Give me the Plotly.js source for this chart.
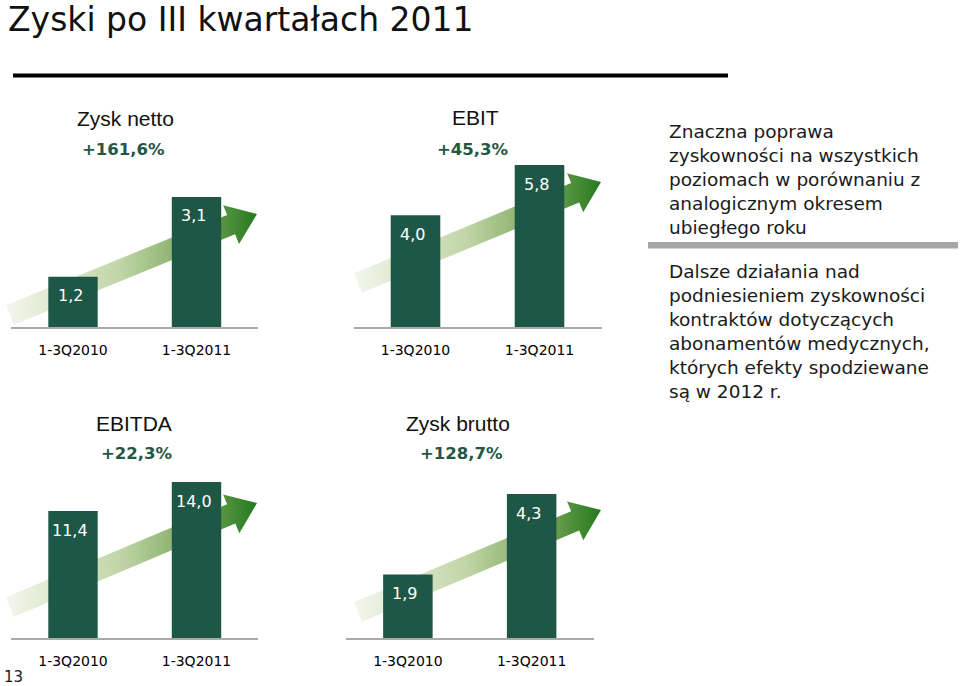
<!DOCTYPE html>
<html>
<head>
<meta charset="utf-8">
<script src="https://cdn.plot.ly/plotly-3.0.1.min.js"></script>
<style>html,body{margin:0;padding:0;background:#fff;}#chart{width:960px;height:686px;}</style>
</head>
<body>
<div id="chart"></div>
<script>
// ---- data ----
const categories = ['1-3Q2010', '1-3Q2011'];
const panelTitles = ['Zysk netto', 'EBIT', 'EBITDA', 'Zysk brutto'];
const panelChanges = ['+161,6%', '+45,3%', '+22,3%', '+128,7%'];
const zyskNetto = [1.2, 3.1];
const ebit = [4.0, 5.8];
const ebitda = [11.4, 14.0];
const zyskBrutto = [1.9, 4.3];
const mainTitle = 'Zyski po III kwartałach 2011';
const noteTop = ['Znaczna poprawa', 'zyskowności na wszystkich', 'poziomach w porównaniu z', 'analogicznym okresem', 'ubiegłego roku'];
const noteBottom = ['Dalsze działania nad', 'podniesieniem zyskowności', 'kontraktów dotyczących', 'abonamentów medycznych,', 'których efekty spodziewane', 'są w 2012 r.'];
const pageNumber = '13';

// ---- layout / style ----
const W = 960, H = 686;
const barColor = '#1f5747';
const changeColor = '#245644';
const panels = [
  {values: zyskNetto, left: 11.25, width: 247, base: 327, height: 170, ymax: 4.05, title: [125, 118], change: [123, 149], tail: [10, 315], tip: [257, 214]},
  {values: ebit, left: 353.5, width: 248, base: 327, height: 170, ymax: 6.09, title: [475, 117], change: [473, 149], tail: [358, 283], tip: [601, 182]},
  {values: ebitda, left: 11.25, width: 247, base: 638, height: 170, ymax: 15.26, title: [134, 423], change: [137, 453], tail: [10, 607], tip: [257, 503]},
  {values: zyskBrutto, left: 346, width: 247.5, base: 638, height: 170, ymax: 5.08, title: [458, 423], change: [461, 453], tail: [358, 612], tip: [601, 510]}
];

function fmt(v) { return v.toFixed(1).replace('.', ','); }

function arrowPath(tail, tip) {
  const dx = tip[0] - tail[0], dy = tip[1] - tail[1];
  const len = Math.hypot(dx, dy);
  const ux = dx / len, uy = dy / len;
  const nx = -uy, ny = ux;
  const s = 10.5, h = 21, L = 28;
  const bx = tip[0] - ux * L, by = tip[1] - uy * L;
  const pts = [
    [tail[0] + nx * s, tail[1] + ny * s],
    [bx + nx * s, by + ny * s],
    [bx + nx * h, by + ny * h],
    [tip[0], tip[1]],
    [bx - nx * h, by - ny * h],
    [bx - nx * s, by - ny * s],
    [tail[0] - nx * s, tail[1] - ny * s],
    [tail[0] + nx * s, tail[1] + ny * s]
  ];
  return {x: pts.map(p => p[0]), y: pts.map(p => p[1])};
}

const traces = [];
const layout = {
  width: W, height: H,
  margin: {l: 0, r: 0, t: 0, b: 0, pad: 0},
  paper_bgcolor: '#ffffff',
  plot_bgcolor: 'rgba(0,0,0,0)',
  showlegend: false,
  title: {
    text: mainTitle,
    x: 8 / W, xanchor: 'left', xref: 'paper',
    y: 1 - 19 / H, yanchor: 'middle', yref: 'paper',
    font: {family: 'DejaVu Sans', size: 33, color: '#111111'}
  },
  xaxis: {domain: [0, 1], range: [0, W], visible: false, fixedrange: true},
  yaxis: {domain: [0, 1], range: [H, 0], visible: false, fixedrange: true},
  annotations: [],
  shapes: [
    {type: 'line', xref: 'x', yref: 'y', x0: 13, x1: 728, y0: 75.5, y1: 75.5, line: {color: '#000000', width: 4}},
    {type: 'rect', xref: 'x', yref: 'y', x0: 648, x1: 958, y0: 242, y1: 248.5, fillcolor: '#a6a6a6', line: {width: 0}}
  ]
};

// arrows (base subplot, drawn beneath the bars)
panels.forEach(p => {
  const a = arrowPath(p.tail, p.tip);
  traces.push({
    type: 'scatter', mode: 'lines', x: a.x, y: a.y, xaxis: 'x', yaxis: 'y',
    fill: 'toself', line: {width: 0, color: 'rgba(0,0,0,0)'},
    fillcolor: '#8fb46e',
    fillgradient: {type: 'horizontal', colorscale: [[0, '#f3f6ec'], [0.45, '#c2d6a8'], [0.8, '#6f9f50'], [1, '#237a1e']]},
    hoverinfo: 'skip'
  });
});

// bar panels
panels.forEach((p, i) => {
  const n = i + 2;
  const xa = 'xaxis' + n, ya = 'yaxis' + n;
  layout[xa] = {
    domain: [p.left / W, (p.left + p.width) / W], anchor: 'y' + n,
    type: 'category', range: [-0.5, 1.5],
    showline: true, linecolor: '#a9a9a9', linewidth: 2,
    showgrid: false, zeroline: false, ticks: '',
    tickfont: {family: 'DejaVu Sans', size: 14, color: '#000000'},
    ticklabelstandoff: 9, fixedrange: true
  };
  layout[ya] = {
    domain: [1 - p.base / H, 1 - (p.base - p.height) / H], anchor: 'x' + n,
    range: [0, p.ymax], visible: false, fixedrange: true
  };
  traces.push({
    type: 'bar', x: categories, y: p.values, xaxis: 'x' + n, yaxis: 'y' + n,
    width: 0.4, marker: {color: barColor, line: {width: 0}}, hoverinfo: 'skip'
  });
  p.values.forEach((v, j) => {
    layout.annotations.push({
      xref: 'x' + n, yref: 'y' + n, x: categories[j], y: v,
      text: fmt(v), showarrow: false, yanchor: 'middle', xanchor: 'center',
      yshift: -19, xshift: -3,
      font: {family: 'DejaVu Sans', size: 16, color: '#ffffff'}
    });
  });
  layout.annotations.push({
    xref: 'x', yref: 'y', x: p.title[0], y: p.title[1], text: panelTitles[i],
    showarrow: false, xanchor: 'center', yanchor: 'middle',
    font: {family: 'Liberation Sans', size: 21, color: '#111111'}
  });
  layout.annotations.push({
    xref: 'x', yref: 'y', x: p.change[0], y: p.change[1], text: '<b>' + panelChanges[i] + '</b>',
    showarrow: false, xanchor: 'center', yanchor: 'middle',
    font: {family: 'DejaVu Sans', size: 16.5, color: changeColor}
  });
});

// side notes
layout.annotations.push({
  xref: 'x', yref: 'y', x: 667, y: 119, text: noteTop.join('<br>'),
  showarrow: false, xanchor: 'left', yanchor: 'top', align: 'left',
  font: {family: 'DejaVu Sans', size: 18.5, color: '#1a1a1a'}
});
layout.annotations.push({
  xref: 'x', yref: 'y', x: 667, y: 259, text: noteBottom.join('<br>'),
  showarrow: false, xanchor: 'left', yanchor: 'top', align: 'left',
  font: {family: 'DejaVu Sans', size: 18.5, color: '#1a1a1a'}
});
layout.annotations.push({
  xref: 'x', yref: 'y', x: 2, y: 677, text: pageNumber,
  showarrow: false, xanchor: 'left', yanchor: 'middle',
  font: {family: 'DejaVu Sans', size: 15, color: '#1a1a1a'}
});

Plotly.newPlot('chart', traces, layout, {staticPlot: true, displayModeBar: false});
</script>
</body>
</html>
